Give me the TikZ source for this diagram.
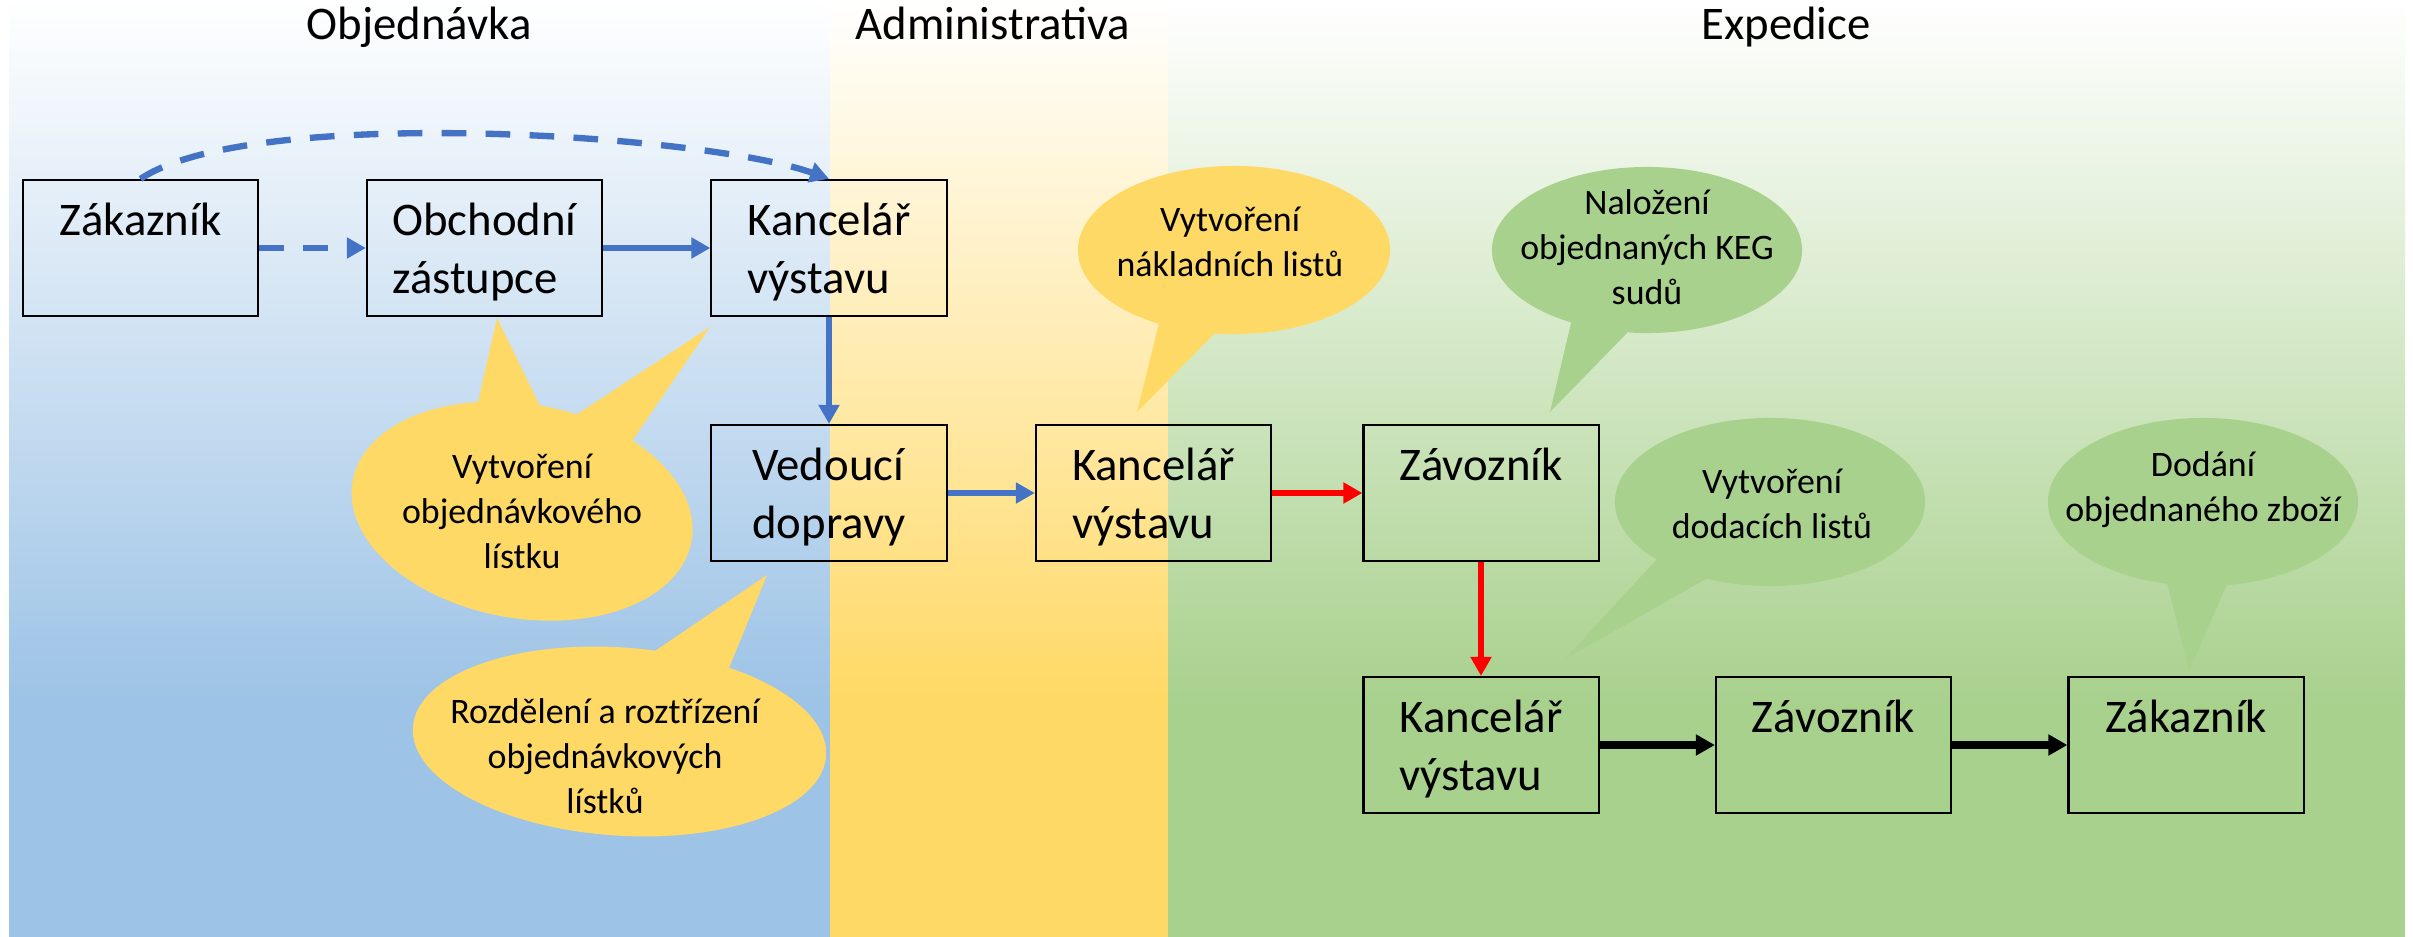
\documentclass[tikz,border=0pt]{standalone}
\usepackage{fontspec}
\setmainfont{Carlito}
\usetikzlibrary{arrows.meta,positioning}
\definecolor{laneblue}{HTML}{9DC3E6}
\definecolor{laneyellow}{HTML}{FFD966}
\definecolor{lanegreen}{HTML}{A9D18E}
\definecolor{flowblue}{HTML}{4472C4}
\definecolor{flowred}{HTML}{FF0000}

\begin{document}
\begin{tikzpicture}[
    x=0.01cm, y=-0.01cm,
    stage/.style={draw=black, line width=0.6pt, minimum width=2.35cm, minimum height=1.36cm, inner sep=0pt},
    stagetext/.style={font=\fontsize{13.3}{16.3}\selectfont, align=left, inner sep=0pt},
    bubbletext/.style={font=\fontsize{10.2}{12.7}\selectfont, align=center, inner sep=0pt, anchor=north},
    lane/.style={font=\fontsize{13.3}{16}\selectfont, anchor=base, inner sep=0pt},
    flow/.style={line width=1.8pt, -{Triangle[length=5.4pt,width=5.7pt]}},
    order/.style={flow, draw=flowblue},
    dispatch/.style={flow, draw=flowred},
    delivery/.style={flow, line width=2.1pt, draw=black},
    dashedflow/.style={dash pattern=on 7pt off 5.5pt}
]
\useasboundingbox (0,0) rectangle (2413,937);
\fill[white] (0,0) rectangle (2413,937);

% swimlanes
\shade[top color=white, bottom color=laneblue]   (9,0)    rectangle (830,700);
\shade[top color=white, bottom color=laneyellow] (830,0)  rectangle (1168,700);
\shade[top color=white, bottom color=lanegreen]  (1168,0) rectangle (2405,700);
\fill[laneblue]   (9,699)    rectangle (830,937);
\fill[laneyellow] (830,699)  rectangle (1168,937);
\fill[lanegreen]  (1168,699) rectangle (2405,937);

\node[lane] (tobj) at (419,40)  {Objednávka};
\node[lane] (tadm) at (993,40)  {Administrativa};
\node[lane] (texp) at (1786,40) {Expedice};

% bubbles
\coordinate (c1) at (522,511);
\coordinate (c2) at (619.5,741.5);
\coordinate (c3) at (1234,250);
\coordinate (c4) at (1647,250);
\coordinate (c5) at (1770,502);
\coordinate (c6) at (2203,502);

\fill[laneyellow, rotate around={-10:(c1)}] (c1) ellipse [x radius=1.72cm, y radius=1.07cm];
\fill[laneyellow] (478,402) -- (497,318) -- (540,406) -- (c1) -- cycle;
\fill[laneyellow] (576,415) -- (710,327) -- (632,441) -- (c1) -- cycle;

\fill[laneyellow, rotate around={-4:(c2)}] (c2) ellipse [x radius=2.07cm, y radius=0.94cm];
\fill[laneyellow] (655,651) -- (767,575) -- (729,668) -- (c2) -- cycle;

\fill[laneyellow] (c3) ellipse [x radius=1.56cm, y radius=0.84cm];
\fill[laneyellow] (1159,323) -- (1137,412) -- (1215,333) -- (c3) -- cycle;

\fill[lanegreen] (c4) ellipse [x radius=1.55cm, y radius=0.83cm];
\fill[lanegreen] (1571,323) -- (1550,412) -- (1627,333) -- (c4) -- cycle;

\fill[lanegreen] (c5) ellipse [x radius=1.55cm, y radius=0.84cm];
\fill[lanegreen] (1657,559) -- (1565,659) -- (1706,579) -- (c5) -- cycle;

\fill[lanegreen] (c6) ellipse [x radius=1.55cm, y radius=0.84cm];
\fill[lanegreen] (2167,583) -- (2189,671) -- (2227,584) -- (c6) -- cycle;

\node[bubbletext] (b1) at (522,447)  {\strut Vytvoření\\objednávkového\\lístku};
\node[bubbletext] (b2) at (605,692)  {\strut Rozdělení a roztřízení\\objednávkových\\lístků};
\node[bubbletext] (b3) at (1230,200) {\strut Vytvoření\\nákladních listů};
\node[bubbletext] (b4) at (1647,183) {\strut Naložení\\objednaných KEG\\sudů};
\node[bubbletext] (b5) at (1772,462) {\strut Vytvoření\\dodacích listů};
\node[bubbletext] (b6) at (2203,445) {\strut Dodání\\objednaného zboží};

% stages
\node[stage] (zak1) at (140.5,248) {};
\node[stage] (obz)  at (484.5,248) {};
\node[stage] (kv1)  at (829,248)   {};
\node[stage] (ved)  at (829,493)   {};
\node[stage] (kv2)  at (1153.5,493) {};
\node[stage] (zav1) at (1481,493)  {};
\node[stage] (kv3)  at (1481,745)  {};
\node[stage] (zav2) at (1833.5,745) {};
\node[stage] (zak2) at (2186,745)  {};

\node[stagetext, below=0.16cm of zak1.north] (zak1t) {\strut Zákazník};
\node[stagetext, below=0.16cm of obz.north]  (obzt)  {\strut Obchodní\\zástupce};
\node[stagetext, below=0.16cm of kv1.north]  (kv1t)  {\strut Kancelář\\výstavu};
\node[stagetext, below=0.16cm of ved.north]  (vedt)  {\strut Vedoucí\\dopravy};
\node[stagetext, below=0.16cm of kv2.north]  (kv2t)  {\strut Kancelář\\výstavu};
\node[stagetext, below=0.16cm of zav1.north] (zav1t) {\strut Závozník};
\node[stagetext, below=0.16cm of kv3.north]  (kv3t)  {\strut Kancelář\\výstavu};
\node[stagetext, below=0.16cm of zav2.north] (zav2t) {\strut Závozník};
\node[stagetext, below=0.16cm of zak2.north] (zak2t) {\strut Zákazník};

% connectors
\draw[order, dashedflow] (zak1.north) .. controls +(110,-74) and +(-125,-45) .. (kv1.north);
\draw[order, dashedflow] (zak1.east) -- (obz.west);
\draw[order] (obz.east) -- (kv1.west);
\draw[order] (kv1.south) -- (ved.north);
\draw[order] (ved.east) -- (kv2.west);
\draw[dispatch] (kv2.east) -- (zav1.west);
\draw[dispatch] (zav1.south) -- (kv3.north);
\draw[delivery] (kv3.east) -- (zav2.west);
\draw[delivery] (zav2.east) -- (zak2.west);

\end{tikzpicture}
\end{document}
